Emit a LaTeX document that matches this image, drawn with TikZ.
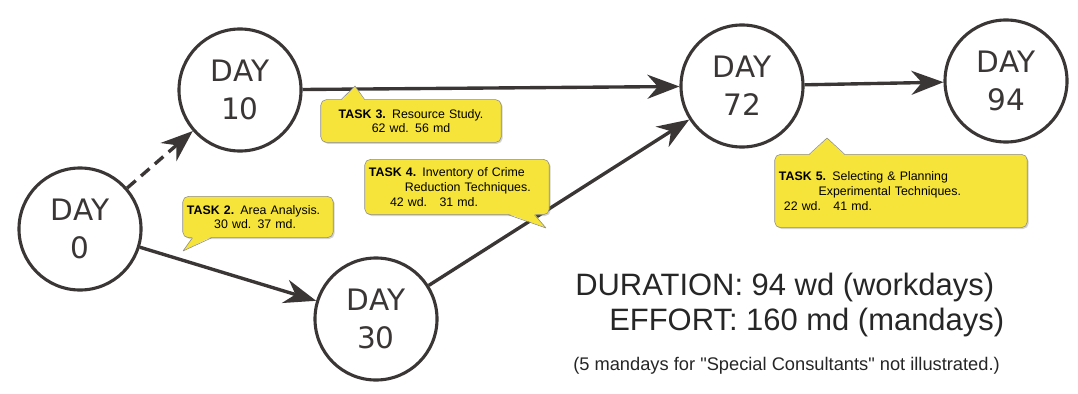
\documentclass[tikz,border=0pt]{standalone}
\usepackage{fontspec}
\setmainfont{Liberation Sans}
\newfontfamily\dayfont{DejaVu Sans}
\newfontfamily\notefont{Liberation Sans}[Ligatures=TeXOff]
\usetikzlibrary{arrows.meta,shadows,calc}

\definecolor{inkgray}{RGB}{58,54,54}
\definecolor{noteyellow}{RGB}{246,228,58}

\begin{document}
\begin{tikzpicture}[x=0.025cm,y=-0.025cm,
  event/.style={circle,draw=inkgray,line width=2.2pt,minimum size=3.05cm,inner sep=0pt,align=center,
    font=\dayfont\fontsize{21}{27}\selectfont,text=inkgray},
  flow/.style={-{Stealth[length=8mm,width=6mm]},line width=2.4pt,draw=inkgray},
  task/.style={rectangle,fill=noteyellow,draw=black!45,thin,rounded corners=4pt,
    drop shadow={opacity=0.35,shadow xshift=1pt,shadow yshift=-1pt},
    inner sep=3pt,font=\fontsize{8.8}{10.5}\selectfont},
  tipfill/.style={fill=noteyellow},
  tipline/.style={draw=black!45,thin,line join=round},
  summary/.style={anchor=west,inner sep=0pt,font=\fontsize{22}{25}\selectfont,text=black!85}]
\useasboundingbox (0,0) rectangle (1078,394);

% events
\node[event] (d0) at (80,229) {DAY\\0};
\node[event] (d10) at (240,90) {DAY\\10};
\node[event] (d30) at (376,319) {DAY\\30};
\node[event] (d72) at (742,86) {DAY\\72};
\node[event] (d94) at (1006,81) {DAY\\94};

% activities
\draw[flow,dashed,dash pattern=on 8pt off 5pt] (d0) -- (d10);
\draw[flow] (d0) -- (d30);
\draw[flow] (d10) -- (d72);
\draw[flow] (d30) -- (d72);
\draw[flow] (d72) -- (d94);

% task notes
\node[task,text width=3.55cm,minimum height=1.03cm] (t2) at (258,217)
  {\textbf{TASK 2.} Area Analysis.\\\hspace*{2.2em}30 wd.\enspace 37 md.};
\node[task,text width=4.3cm,minimum height=1.07cm,align=center] (t3) at (411,121)
  {\textbf{TASK 3.} Resource Study.\\62 wd.\enspace 56 md};
\node[task,text width=4.4cm,minimum height=1.38cm] (t4) at (457,187)
  {\textbf{TASK 4.}\enspace Inventory of Crime\\\hspace*{2.9em}Reduction Techniques.\\\hspace*{1.7em}42 wd.\quad 31 md.};
\node[task,text width=6.1cm,minimum height=1.83cm] (t5) at (901,191)
  {\textbf{TASK 5.}\enspace Selecting \& Planning\\\hspace*{3.2em}Experimental Techniques.\\\hspace*{0.4em}22 wd.\quad 41 md.\\[1.6em]};

% pointers of the notes
\coordinate (p2) at (183,251);
\coordinate (p3) at (355,86);
\coordinate (p4) at (546,228);
\coordinate (p5) at (827,138);
\fill[tipfill] ($(t2.south west)+(10,-1)$) -- (p2) -- ($(t2.south west)+(29,-1)$) -- cycle;
\draw[tipline] ($(t2.south west)+(10,0)$) -- (p2) -- ($(t2.south west)+(29,0)$);
\fill[tipfill] ($(t3.north west)+(21,1)$) -- (p3) -- ($(t3.north west)+(44,1)$) -- cycle;
\draw[tipline] ($(t3.north west)+(21,0)$) -- (p3) -- ($(t3.north west)+(44,0)$);
\fill[tipfill] ($(t4.south east)+(-41,-1)$) -- (p4) -- ($(t4.south east)+(-15,-1)$) -- cycle;
\draw[tipline] ($(t4.south east)+(-41,0)$) -- (p4) -- ($(t4.south east)+(-15,0)$);
\fill[tipfill] ($(t5.north west)+(35,1)$) -- (p5) -- ($(t5.north west)+(70,1)$) -- cycle;
\draw[tipline] ($(t5.north west)+(35,0)$) -- (p5) -- ($(t5.north west)+(70,0)$);

% totals
\node[summary] (dur) at (575,287) {DURATION: 94 wd (workdays)};
\node[summary] (eff) at (609,322) {EFFORT: 160 md (mandays)};
\node[summary,font=\notefont\fontsize{13}{15}\selectfont] (note) at (573,366) {(5 mandays for "Special Consultants" not illustrated.)};
\end{tikzpicture}
\end{document}
